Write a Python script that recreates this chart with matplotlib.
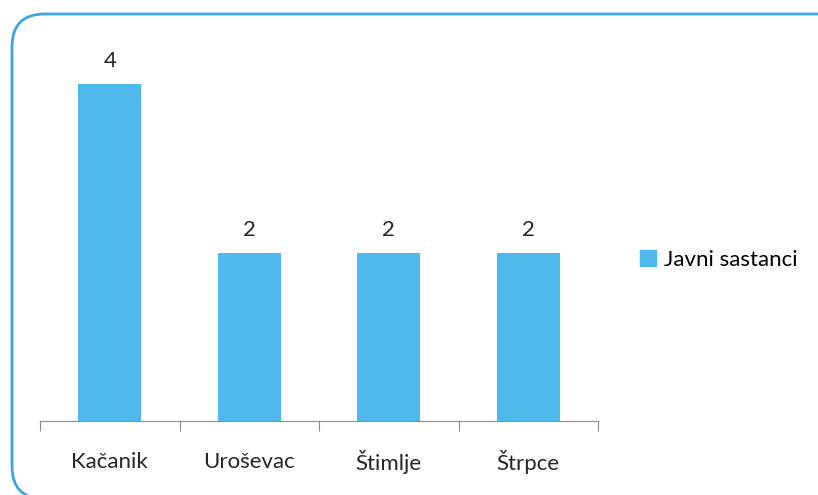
import matplotlib.pyplot as plt
from matplotlib.patches import FancyBboxPatch, Patch

plt.rcParams['font.family'] = ['Lato', 'DejaVu Sans']

categories = ["Kačanik", "Uroševac", "Štimlje", "Štrpce"]
values = [4, 2, 2, 2]
series_name = "Javni sastanci"
bar_color = "#4FB9EC"
text_color = "#262626"

fig = plt.figure(figsize=(8.18, 4.95), dpi=100)
fig.patch.set_facecolor("white")

# rounded frame, runs off the right and bottom edges like the original
frame = FancyBboxPatch((12 / 818, -4 / 495), 845 / 818, 485 / 495,
                       boxstyle="round,pad=0,rounding_size=0.04",
                       transform=fig.transFigure, facecolor="none",
                       edgecolor="#3DA6E3", linewidth=2, mutation_aspect=818 / 495)
fig.patches.append(frame)

ax = fig.add_axes([40 / 818, 74 / 495, 558 / 818, 379 / 495])
x = list(range(len(categories)))
ax.bar(x, values, width=0.45, color=bar_color)
for i, v in zip(x, values):
    ax.text(i, v + 0.15, str(v), ha="center", va="bottom", fontsize=16, color=text_color)

ax.set_xlim(-0.5, len(categories) - 0.5)
ax.set_ylim(0, 4.5)
ax.set_yticks([])
ax.set_xticks([i - 0.5 for i in range(len(categories) + 1)])
ax.set_xticklabels([])
ax.tick_params(axis="x", which="major", direction="out", length=7, color="#8c8c8c")
for i, name in zip(x, categories):
    ax.annotate(name, (i, 0), xytext=(0, -28), textcoords="offset points",
                ha="center", va="center_baseline", fontsize=16, color=text_color,
                annotation_clip=False)
for s in ["top", "right", "left"]:
    ax.spines[s].set_visible(False)
ax.spines["bottom"].set_color("#8c8c8c")

fig.legend(handles=[Patch(color=bar_color, label=series_name)],
           loc="center left", bbox_to_anchor=(620 / 818, 1 - 260 / 495),
           frameon=False, fontsize=16, handlelength=0.7, handleheight=0.7,
           handletextpad=0.4)

plt.savefig("out.png", dpi=100)
